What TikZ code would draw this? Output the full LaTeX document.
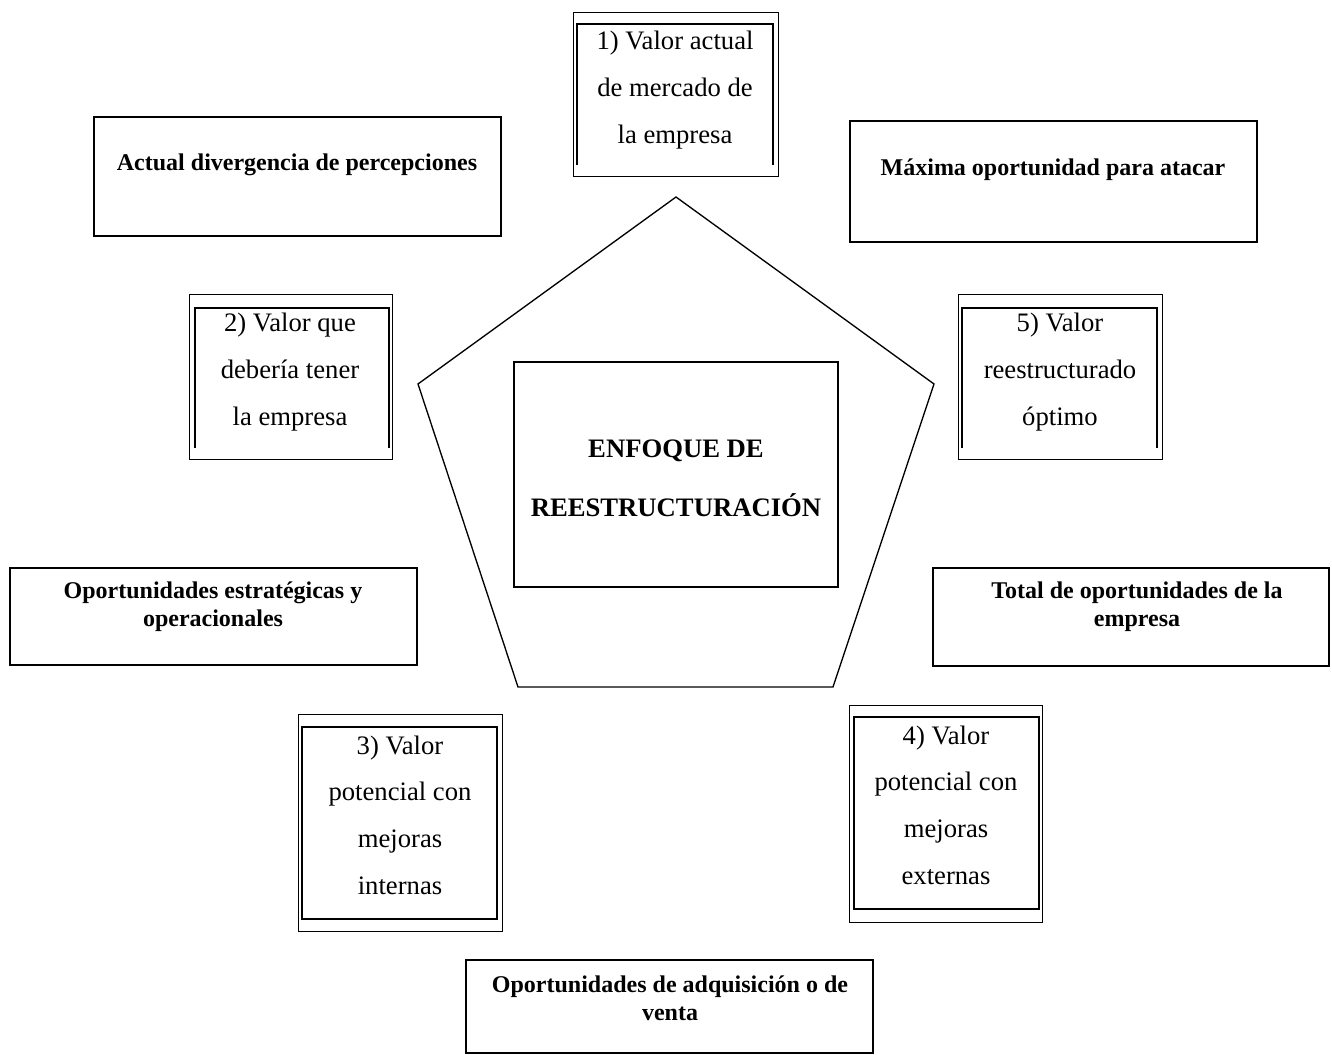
\documentclass[tikz,border=0pt]{standalone}
\usepackage{fontspec}
\setmainfont{Liberation Serif}
\begin{document}
\begin{tikzpicture}[x=0.75pt,y=-0.75pt,
  plainbox/.style={draw, line width=1pt, inner sep=0pt},
  outerbox/.style={draw, line width=0.7pt, inner sep=0pt},
  innerbox/.style={draw, line width=1.6pt, inner sep=0pt},
  innerline/.style={line width=1.6pt},
  normtxt/.style={align=center, font=\fontsize{20}{35}\selectfont, inner sep=0pt},
  boldtxt/.style={align=center, font=\fontsize{18}{21}\selectfont\bfseries, inner sep=0pt},
  centertxt/.style={align=center, font=\fontsize{20}{44.25}\selectfont\bfseries, inner sep=0pt},
  penta/.style={draw, line width=1pt}
]
\useasboundingbox (0,0) rectangle (1332,1055);

% pentagon
\coordinate (p1) at (676,197);
\coordinate (p2) at (934,384);
\coordinate (p3) at (833,687);
\coordinate (p4) at (518,687);
\coordinate (p5) at (418,384);
\draw[penta] (p1) -- (p2) -- (p3) -- (p4) -- (p5) -- cycle;

% center box
\node[plainbox, minimum width=243pt, minimum height=168.75pt] (cb) at (676,474.5) {};
\node[centertxt] (ct) at (676,478) {ENFOQUE DE\\REESTRUCTURACIÓN};

% plain boxes with bold text
\node[plainbox, minimum width=305.25pt, minimum height=89.25pt] (ba) at (297.5,176.5) {};
\node[boldtxt] (ta) at (297,165) {Actual divergencia de percepciones};

\node[plainbox, minimum width=305.25pt, minimum height=90.75pt] (bm) at (1053.5,181.5) {};
\node[boldtxt] (tm) at (1053,170) {Máxima oportunidad para atacar};

\node[plainbox, minimum width=305.25pt, minimum height=72.75pt] (bo) at (213.5,616.5) {};
\node[boldtxt] (to) at (213,607) {Oportunidades estratégicas y\\operacionales};

\node[plainbox, minimum width=297pt, minimum height=73.5pt] (bt) at (1131,617) {};
\node[boldtxt] (tt) at (1137,607) {Total de oportunidades de la\\empresa};

\node[plainbox, minimum width=305.25pt, minimum height=69.75pt] (bv) at (669.5,1006.5) {};
\node[boldtxt] (tv) at (670,998) {Oportunidades de adquisición o de\\venta};

% box 1
\node[outerbox, minimum width=153.75pt, minimum height=123pt] (o1) at (675.5,94) {};
\draw[innerline] (577,165) -- (577,24) -- (773,24) -- (773,165);
\node[normtxt] (t1) at (675,90) {1) Valor actual\\de mercado de\\la empresa};

% box 2
\node[outerbox, minimum width=152.25pt, minimum height=123.75pt] (o2) at (290.5,376.5) {};
\draw[innerline] (195,448) -- (195,308) -- (389,308) -- (389,448);
\node[normtxt] (t2) at (290,372) {2) Valor que\\debería tener\\la empresa};

% box 5
\node[outerbox, minimum width=153pt, minimum height=123.75pt] (o5) at (1060,376.5) {};
\draw[innerline] (962,448) -- (962,308) -- (1157,308) -- (1157,448);
\node[normtxt] (t5) at (1060,372) {5) Valor\\reestructurado\\óptimo};

% box 3
\node[outerbox, minimum width=153pt, minimum height=162.75pt] (o3) at (400,822.5) {};
\node[innerbox, minimum width=146.25pt, minimum height=144pt] (i3) at (399.5,823) {};
\node[normtxt] (t3) at (400,815) {3) Valor\\potencial con\\mejoras\\internas};

% box 4
\node[outerbox, minimum width=144.75pt, minimum height=162.75pt] (o4) at (945.5,813.5) {};
\node[innerbox, minimum width=138.75pt, minimum height=144pt] (i4) at (946.5,813) {};
\node[normtxt] (t4) at (946,805) {4) Valor\\potencial con\\mejoras\\externas};
\end{tikzpicture}
\end{document}
